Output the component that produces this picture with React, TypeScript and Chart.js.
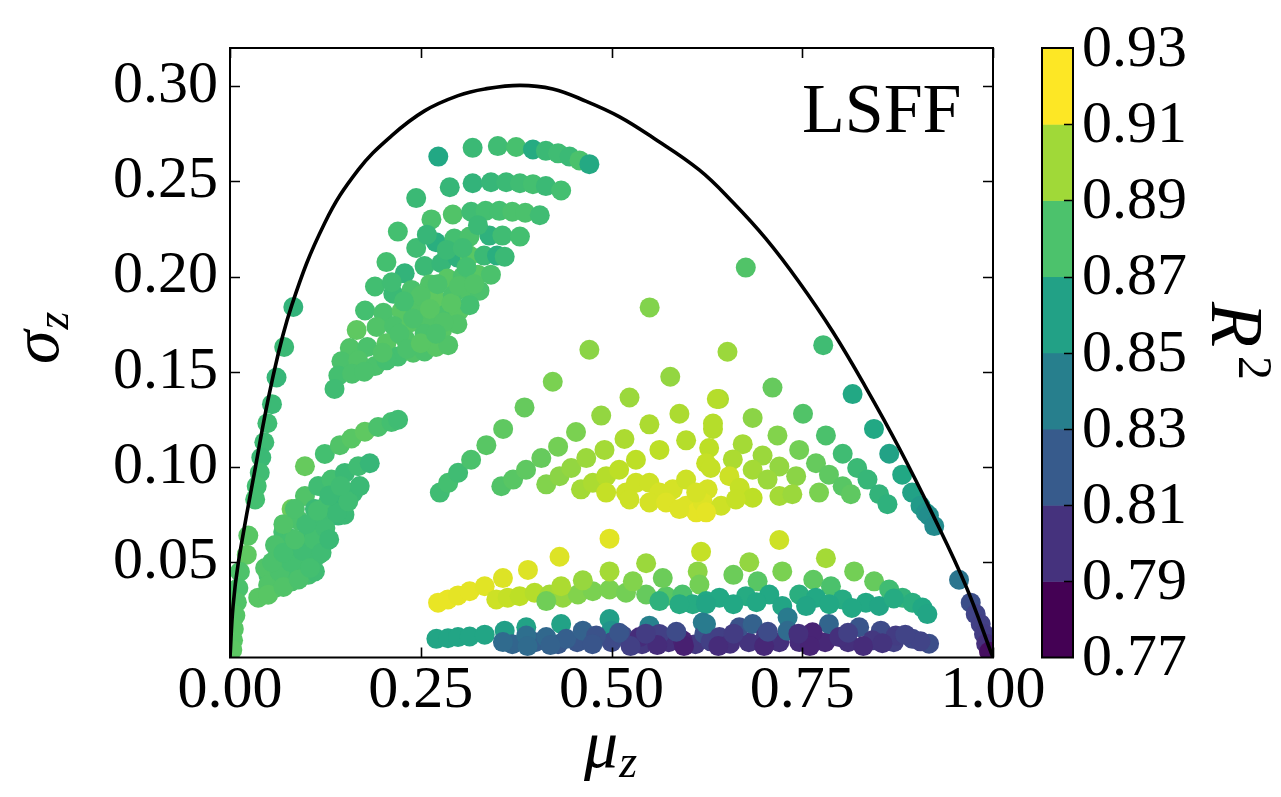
import React, { useEffect, useRef } from 'react';
import { Chart, registerables } from 'chart.js';
Chart.register(...registerables);

type P = [number, number, number]; // [mu, sigma, R2]

const boundaryMu = [0, 0.004, 0.011, 0.032, 0.055, 0.081, 0.124, 0.168, 0.212, 0.255, 0.299, 0.334, 0.38, 0.423, 0.467, 0.51, 0.554, 0.615, 0.659, 0.702, 0.746, 0.79, 0.833, 0.877, 0.921, 0.964, 1.0];
const boundarySigma = [0, 0.027, 0.05, 0.097, 0.145, 0.185, 0.228, 0.256, 0.274, 0.287, 0.295, 0.2985, 0.3004, 0.2985, 0.292, 0.284, 0.273, 0.256, 0.239, 0.220, 0.197, 0.171, 0.142, 0.110, 0.075, 0.038, 0];

const xTicks = [0, 0.25, 0.5, 0.75, 1.0];
const yTicks = [0.05, 0.1, 0.15, 0.2, 0.25, 0.3];
const cbarLevels = [0.77, 0.79, 0.81, 0.83, 0.85, 0.87, 0.89, 0.91, 0.93];

const leftColumn: P[] = [
  [0.083, 0.184, 0.874], [0.071, 0.163, 0.878], [0.061, 0.147, 0.876], [0.055, 0.133, 0.878],
  [0.049, 0.123, 0.880], [0.045, 0.113, 0.879], [0.041, 0.105, 0.878], [0.039, 0.097, 0.880],
  [0.035, 0.090, 0.881], [0.033, 0.083, 0.882], [0.024, 0.064, 0.888], [0.022, 0.054, 0.890],
  [0.013, 0.045, 0.885], [0.011, 0.0365, 0.884], [0.009, 0.029, 0.886], [0.007, 0.022, 0.887],
  [0.005, 0.015, 0.888], [0.004, 0.009, 0.888], [0.003, 0.004, 0.889],
];

const upperCluster: P[] = [
  [0.273, 0.263, 0.866], [0.318, 0.2676, 0.878], [0.351, 0.2685, 0.880], [0.375, 0.268, 0.883], [0.397, 0.2667, 0.868],
  [0.414, 0.266, 0.878], [0.430, 0.2647, 0.880], [0.445, 0.263, 0.878], [0.458, 0.261, 0.884], [0.471, 0.259, 0.867],
  [0.244, 0.2412, 0.878], [0.288, 0.2469, 0.876], [0.318, 0.249, 0.874], [0.342, 0.2495, 0.876], [0.362, 0.2495, 0.878],
  [0.380, 0.249, 0.880], [0.397, 0.2485, 0.882], [0.414, 0.2475, 0.878], [0.434, 0.2452, 0.882],
  [0.220, 0.2236, 0.882], [0.264, 0.230, 0.884], [0.292, 0.2326, 0.886], [0.316, 0.234, 0.880], [0.335, 0.2345, 0.882],
  [0.353, 0.2345, 0.882], [0.370, 0.234, 0.884], [0.387, 0.2335, 0.884], [0.406, 0.2322, 0.880],
  [0.244, 0.215, 0.880], [0.270, 0.218, 0.870], [0.294, 0.220, 0.882], [0.314, 0.221, 0.884], [0.340, 0.2215, 0.872],
  [0.357, 0.2215, 0.880], [0.380, 0.221, 0.882],
  [0.205, 0.2076, 0.882], [0.229, 0.2017, 0.874], [0.255, 0.2055, 0.878], [0.277, 0.207, 0.876], [0.298, 0.210, 0.872],
  [0.314, 0.211, 0.888], [0.333, 0.211, 0.878], [0.350, 0.211, 0.870], [0.360, 0.2104, 0.878],
  [0.190, 0.1948, 0.881], [0.214, 0.191, 0.878], [0.238, 0.193, 0.884], [0.262, 0.196, 0.886], [0.285, 0.199, 0.888],
  [0.305, 0.200, 0.884], [0.325, 0.201, 0.888], [0.342, 0.201, 0.884],
  [0.177, 0.1822, 0.882], [0.201, 0.181, 0.884], [0.225, 0.182, 0.888], [0.248, 0.185, 0.886], [0.270, 0.188, 0.890],
  [0.292, 0.190, 0.884], [0.314, 0.192, 0.886], [0.327, 0.1926, 0.884],
  [0.166, 0.1719, 0.890], [0.192, 0.1735, 0.886], [0.215, 0.174, 0.884], [0.238, 0.176, 0.888], [0.260, 0.178, 0.886],
  [0.282, 0.180, 0.884], [0.300, 0.182, 0.888], [0.314, 0.185, 0.882],
  [0.157, 0.1625, 0.886], [0.180, 0.163, 0.884], [0.205, 0.165, 0.888], [0.230, 0.167, 0.886], [0.255, 0.170, 0.884],
  [0.278, 0.172, 0.888], [0.298, 0.175, 0.886],
  [0.146, 0.1555, 0.884], [0.168, 0.156, 0.886], [0.190, 0.153, 0.884], [0.220, 0.158, 0.882], [0.240, 0.160, 0.886],
  [0.255, 0.1607, 0.884], [0.270, 0.163, 0.888], [0.286, 0.164, 0.886],
  [0.142, 0.148, 0.882], [0.137, 0.141, 0.880], [0.160, 0.149, 0.884], [0.176, 0.150, 0.884], [0.205, 0.156, 0.882],
  [0.250, 0.190, 0.886], [0.272, 0.196, 0.884], [0.290, 0.186, 0.888], [0.300, 0.195, 0.886], [0.240, 0.178, 0.884],
  [0.262, 0.183, 0.888], [0.280, 0.176, 0.886], [0.222, 0.170, 0.884], [0.200, 0.160, 0.886], [0.232, 0.162, 0.884],
  [0.250, 0.165, 0.888], [0.270, 0.170, 0.884], [0.310, 0.205, 0.882], [0.320, 0.196, 0.886], [0.228, 0.187, 0.882],
  [0.212, 0.197, 0.880], [0.284, 0.214, 0.878], [0.305, 0.215, 0.880], [0.325, 0.227, 0.878], [0.258, 0.222, 0.876],
];

const lowerLeftCluster: P[] = [
  [0.0982, 0.1004, 0.892], [0.1243, 0.1069, 0.882], [0.144, 0.1115, 0.886], [0.1593, 0.115, 0.888],
  [0.1767, 0.1185, 0.890], [0.1941, 0.121, 0.884], [0.2116, 0.1236, 0.882], [0.2203, 0.1248, 0.880],
  [0.0982, 0.0848, 0.886], [0.1156, 0.09, 0.880], [0.133, 0.0934, 0.882], [0.1505, 0.0969, 0.878],
  [0.168, 0.1004, 0.880], [0.1832, 0.102, 0.876],
  [0.1113, 0.0779, 0.878], [0.1287, 0.0814, 0.882], [0.146, 0.0848, 0.876], [0.1614, 0.0866, 0.878],
  [0.1243, 0.0707, 0.880], [0.1418, 0.0745, 0.876], [0.150, 0.075, 0.878],
  [0.0807, 0.0779, 0.894], [0.0698, 0.0659, 0.882], [0.1025, 0.0676, 0.878], [0.1243, 0.0607, 0.880],
  [0.1025, 0.0572, 0.882], [0.0851, 0.0538, 0.878], [0.0633, 0.0503, 0.886], [0.0502, 0.0434, 0.884],
  [0.037, 0.0314, 0.888], [0.0589, 0.0365, 0.886], [0.0807, 0.04, 0.884], [0.1025, 0.0434, 0.882],
  [0.1113, 0.0452, 0.880], [0.094, 0.05, 0.882], [0.1156, 0.0538, 0.880], [0.0676, 0.0572, 0.884],
  [0.0807, 0.0624, 0.882], [0.0938, 0.0607, 0.880], [0.1113, 0.0641, 0.878], [0.046, 0.047, 0.886],
  [0.072, 0.047, 0.882], [0.059, 0.059, 0.884], [0.09, 0.072, 0.884], [0.113, 0.072, 0.880],
  [0.05, 0.038, 0.886], [0.065, 0.045, 0.884], [0.08, 0.05, 0.882], [0.095, 0.056, 0.880], [0.11, 0.062, 0.882],
  [0.125, 0.068, 0.880], [0.14, 0.076, 0.878], [0.155, 0.082, 0.880], [0.17, 0.09, 0.878],
  [0.055, 0.05, 0.884], [0.07, 0.055, 0.882], [0.085, 0.062, 0.884], [0.1, 0.07, 0.880], [0.115, 0.077, 0.882],
  [0.13, 0.085, 0.878], [0.145, 0.09, 0.880], [0.07, 0.07, 0.886], [0.085, 0.078, 0.884],
  [0.05, 0.033, 0.888], [0.07, 0.037, 0.886], [0.09, 0.041, 0.884], [0.105, 0.047, 0.882], [0.12, 0.055, 0.880],
  [0.13, 0.062, 0.878],
];

const fanArcs: P[] = [
  [0.275, 0.0866, 0.880], [0.286, 0.0917, 0.882], [0.299, 0.097, 0.880], [0.316, 0.1038, 0.884], [0.336, 0.1115, 0.888],
  [0.358, 0.120, 0.890], [0.386, 0.1313, 0.892], [0.423, 0.1448, 0.898], [0.471, 0.1616, 0.902], [0.55, 0.1838, 0.900],
  [0.676, 0.2047, 0.886],
  [0.7775, 0.164, 0.880], [0.816, 0.1383, 0.866], [0.844, 0.120, 0.866], [0.864, 0.107, 0.862], [0.881, 0.096, 0.866],
  [0.894, 0.0866, 0.862], [0.905, 0.0797, 0.856], [0.912, 0.076, 0.852], [0.916, 0.0745, 0.848], [0.923, 0.069, 0.846],
  [0.3556, 0.0899, 0.886], [0.371, 0.0934, 0.888], [0.388, 0.0986, 0.890], [0.408, 0.1047, 0.892], [0.430, 0.1107, 0.896],
  [0.4535, 0.1184, 0.898], [0.4865, 0.127, 0.904], [0.5236, 0.1365, 0.906], [0.577, 0.1474, 0.904], [0.652, 0.1605, 0.906],
  [0.711, 0.1417, 0.892], [0.751, 0.128, 0.886], [0.781, 0.1166, 0.884], [0.803, 0.107, 0.880], [0.822, 0.0995, 0.878],
  [0.8355, 0.0934, 0.876], [0.8508, 0.0857, 0.874], [0.8617, 0.0805, 0.872],
  [0.4145, 0.0909, 0.900], [0.4319, 0.0952, 0.902], [0.4472, 0.0995, 0.904], [0.4669, 0.1047, 0.906], [0.4908, 0.109, 0.908],
  [0.517, 0.1147, 0.910], [0.5497, 0.1224, 0.910], [0.589, 0.128, 0.910], [0.641, 0.1357, 0.910], [0.685, 0.1258, 0.902],
  [0.7175, 0.1166, 0.900], [0.746, 0.109, 0.896], [0.768, 0.102, 0.892], [0.785, 0.096, 0.890], [0.803, 0.0899, 0.888],
  [0.8137, 0.0857, 0.890],
  [0.460, 0.0883, 0.908], [0.4755, 0.0917, 0.910], [0.493, 0.0952, 0.912], [0.510, 0.0986, 0.914], [0.532, 0.1038, 0.914],
  [0.5628, 0.109, 0.914], [0.5978, 0.114, 0.912], [0.633, 0.120, 0.912], [0.672, 0.112, 0.908], [0.698, 0.106, 0.906],
  [0.720, 0.1003, 0.904], [0.742, 0.0952, 0.902], [0.772, 0.0866, 0.898],
  [0.638, 0.1357, 0.912], [0.633, 0.1228, 0.912], [0.628, 0.110, 0.914], [0.624, 0.102, 0.916], [0.630, 0.0995, 0.916],
  [0.626, 0.0883, 0.920],
  [0.493, 0.0866, 0.916], [0.519, 0.0866, 0.918], [0.532, 0.0917, 0.918], [0.5497, 0.0917, 0.918], [0.5628, 0.0866, 0.920],
  [0.5803, 0.0883, 0.920], [0.5978, 0.0934, 0.918], [0.5978, 0.0797, 0.922], [0.611, 0.0762, 0.924], [0.6196, 0.0814, 0.922],
  [0.5497, 0.0814, 0.920], [0.5236, 0.083, 0.918], [0.5715, 0.0814, 0.922], [0.589, 0.0779, 0.922], [0.611, 0.0866, 0.920],
  [0.659, 0.104, 0.910], [0.6545, 0.0952, 0.918], [0.668, 0.0891, 0.916], [0.685, 0.0839, 0.914], [0.720, 0.0848, 0.908],
  [0.737, 0.0857, 0.906], [0.6436, 0.0797, 0.918], [0.663, 0.083, 0.916], [0.685, 0.0986, 0.908], [0.7045, 0.0934, 0.906],
  [0.624, 0.0762, 0.924],
];

const lowerArcs: P[] = [
  [0.2727, 0.0288, 0.925], [0.2857, 0.0305, 0.925], [0.2988, 0.0326, 0.924], [0.3141, 0.0348, 0.924], [0.3338, 0.0374, 0.923],
  [0.3577, 0.0417, 0.922], [0.3905, 0.046, 0.922], [0.4319, 0.0529, 0.922], [0.4974, 0.0624, 0.923], [0.6174, 0.0555, 0.916],
  [0.7199, 0.0617, 0.918], [0.781, 0.0521, 0.908], [0.6806, 0.05, 0.904], [0.5454, 0.0495, 0.906], [0.818, 0.0452, 0.896],
  [0.349, 0.0305, 0.918], [0.364, 0.0314, 0.916], [0.3796, 0.0322, 0.914], [0.3992, 0.034, 0.912], [0.4188, 0.0331, 0.908],
  [0.4363, 0.0314, 0.904], [0.4559, 0.0331, 0.900], [0.4755, 0.0348, 0.898], [0.4974, 0.0357, 0.898], [0.519, 0.034, 0.896],
  [0.5454, 0.0331, 0.892], [0.5715, 0.0322, 0.888], [0.593, 0.0331, 0.884], [0.4145, 0.0296, 0.895],
  [0.4624, 0.0405, 0.905], [0.434, 0.0374, 0.910], [0.4974, 0.0452, 0.908], [0.528, 0.04, 0.900], [0.5672, 0.0417, 0.894],
  [0.613, 0.0452, 0.902], [0.6152, 0.0383, 0.896], [0.7238, 0.0452, 0.898], [0.7644, 0.0408, 0.890], [0.8442, 0.04, 0.892],
  [0.6597, 0.0434, 0.894], [0.6915, 0.04, 0.888], [0.7876, 0.0374, 0.884], [0.8639, 0.0357, 0.880], [0.8813, 0.0314, 0.874],
  [0.8944, 0.0288, 0.870], [0.9075, 0.0262, 0.866], [0.914, 0.0228, 0.864],
  [0.6064, 0.028, 0.868], [0.624, 0.0296, 0.866], [0.5628, 0.0296, 0.872], [0.589, 0.028, 0.868], [0.6414, 0.0314, 0.866],
  [0.6763, 0.0322, 0.868], [0.7068, 0.0331, 0.866], [0.746, 0.0331, 0.870], [0.7679, 0.0314, 0.866], [0.8028, 0.0305, 0.868],
  [0.8334, 0.0288, 0.866], [0.8508, 0.0271, 0.864], [0.6239, 0.028, 0.864], [0.6597, 0.028, 0.866], [0.7238, 0.0271, 0.864],
  [0.7854, 0.028, 0.866], [0.69, 0.029, 0.866], [0.755, 0.027, 0.864], [0.815, 0.026, 0.866], [0.87, 0.031, 0.868],
];

const bottomRows: P[] = [
  [0.2705, 0.0098, 0.864], [0.2857, 0.0101, 0.864], [0.2988, 0.0107, 0.864], [0.3141, 0.011, 0.864], [0.3338, 0.012, 0.864],
  [0.36, 0.0141, 0.860], [0.3883, 0.0159, 0.862], [0.434, 0.0176, 0.862], [0.4974, 0.0202, 0.860], [0.4996, 0.0141, 0.852],
  [0.5497, 0.0167, 0.840], [0.6196, 0.0184, 0.836],
  [0.37, 0.007, 0.822], [0.40, 0.008, 0.818], [0.43, 0.007, 0.814], [0.455, 0.008, 0.812], [0.50, 0.008, 0.806],
  [0.54, 0.007, 0.796], [0.575, 0.008, 0.792], [0.61, 0.007, 0.796], [0.68, 0.008, 0.794], [0.72, 0.008, 0.792],
  [0.78, 0.008, 0.788], [0.81, 0.008, 0.792], [0.87, 0.008, 0.800],
  [0.3577, 0.0081, 0.826], [0.3883, 0.0115, 0.828], [0.4145, 0.0107, 0.824], [0.4407, 0.0098, 0.818], [0.4624, 0.0141, 0.820],
  [0.4799, 0.0115, 0.810], [0.5148, 0.0115, 0.806], [0.5366, 0.0107, 0.790], [0.5628, 0.0124, 0.800], [0.5933, 0.009, 0.786],
  [0.6217, 0.0124, 0.808], [0.63, 0.0085, 0.800], [0.6239, 0.0176, 0.836], [0.6675, 0.0159, 0.810], [0.685, 0.0176, 0.820],
  [0.7308, 0.021, 0.836], [0.7308, 0.014, 0.826], [0.785, 0.0176, 0.822], [0.8246, 0.0159, 0.812], [0.853, 0.0141, 0.806],
  [0.7635, 0.0132, 0.786], [0.6414, 0.0107, 0.800], [0.7024, 0.0115, 0.796], [0.7985, 0.0107, 0.792], [0.8726, 0.0115, 0.798],
  [0.8944, 0.0098, 0.804], [0.9162, 0.0072, 0.808], [0.842, 0.009, 0.796], [0.6554, 0.0072, 0.792], [0.7461, 0.0081, 0.790],
  [0.39, 0.006, 0.826], [0.42, 0.0065, 0.820], [0.475, 0.007, 0.812], [0.525, 0.006, 0.800], [0.56, 0.0065, 0.790],
  [0.595, 0.006, 0.784], [0.64, 0.006, 0.790], [0.70, 0.006, 0.788], [0.76, 0.006, 0.786], [0.83, 0.006, 0.790],
  [0.855, 0.0075, 0.794], [0.905, 0.0085, 0.802], [0.885, 0.012, 0.802], [0.81, 0.013, 0.800], [0.745, 0.0125, 0.792],
  [0.705, 0.0135, 0.806], [0.66, 0.0125, 0.798], [0.585, 0.0135, 0.806], [0.545, 0.0125, 0.798], [0.51, 0.013, 0.812],
];

const rightCorner: P[] = [
  [0.9555, 0.0408, 0.832], [0.9708, 0.0288, 0.808], [0.9773, 0.0228, 0.802], [0.9839, 0.0176, 0.800],
  [0.9882, 0.0124, 0.798], [0.991, 0.0072, 0.792], [0.9948, 0.003, 0.776],
];

const VIRIDIS = ['#440154', '#482475', '#414487', '#355f8d', '#2a788e', '#21918c', '#22a884', '#44bf70', '#7ad151', '#bddf26', '#fde725'];
const hex = (h: string) => [parseInt(h.slice(1, 3), 16), parseInt(h.slice(3, 5), 16), parseInt(h.slice(5, 7), 16)];
function viridis(t: number): string {
  const c = Math.max(0, Math.min(1, t)) * 10;
  const i = Math.min(9, Math.floor(c));
  const f = c - i;
  const a = hex(VIRIDIS[i]);
  const b = hex(VIRIDIS[i + 1]);
  const m = a.map((v, k) => Math.round(v + (b[k] - v) * f));
  return `rgb(${m[0]},${m[1]},${m[2]})`;
}
const vmin = cbarLevels[0];
const vmax = cbarLevels[cbarLevels.length - 1];
const colorOf = (r: number) => viridis((r - vmin) / (vmax - vmin));

const SERIF = '"Liberation Serif"';

function scatterSet(pts: P[]) {
  return {
    type: 'scatter' as const,
    data: pts.map((p) => ({ x: p[0], y: p[1] })),
    pointBackgroundColor: pts.map((p) => colorOf(p[2])),
    pointBorderWidth: 0,
    pointBorderColor: 'rgba(0,0,0,0)',
    pointRadius: 10,
    pointHoverRadius: 10,
    showLine: false,
    order: 1,
    clip: 0,
  };
}

const decor = {
  id: 'decor',
  afterDatasetsDraw(chart: any) {
    const { ctx, chartArea: a, scales } = chart;
    ctx.save();
    ctx.strokeStyle = '#000';
    ctx.lineWidth = 1.6;
    ctx.beginPath();
    xTicks.forEach((v) => {
      const px = Math.round(scales.x.getPixelForValue(v)) + 0.5;
      ctx.moveTo(px, a.bottom); ctx.lineTo(px, a.bottom - 10);
      ctx.moveTo(px, a.top); ctx.lineTo(px, a.top + 10);
    });
    yTicks.forEach((v) => {
      const py = Math.round(scales.y.getPixelForValue(v)) + 0.5;
      ctx.moveTo(a.left, py); ctx.lineTo(a.left + 10, py);
      ctx.moveTo(a.right, py); ctx.lineTo(a.right - 10, py);
    });
    ctx.stroke();
    ctx.lineWidth = 2;
    ctx.strokeRect(a.left, a.top, a.right - a.left, a.bottom - a.top);
    ctx.restore();
  },
  afterDraw(chart: any) {
    const { ctx, chartArea: a } = chart;
    ctx.save();
    const cl = 1042, cr = 1073;
    const yOf = (v: number) => a.bottom - ((v - vmin) / (vmax - vmin)) * (a.bottom - a.top);
    const n = cbarLevels.length - 1;
    for (let i = 0; i < n; i++) {
      ctx.fillStyle = viridis(i / (n - 1));
      const y0 = yOf(cbarLevels[i]);
      const y1 = yOf(cbarLevels[i + 1]);
      ctx.fillRect(cl, y1, cr - cl, y0 - y1 + 0.5);
    }
    ctx.strokeStyle = '#000';
    ctx.lineWidth = 1.6;
    ctx.beginPath();
    for (let i = 1; i < n; i++) {
      const y = Math.round(yOf(cbarLevels[i])) + 0.5;
      ctx.moveTo(cr, y); ctx.lineTo(cr - 9, y);
    }
    ctx.stroke();
    ctx.lineWidth = 2;
    ctx.strokeRect(cl, a.top, cr - cl, a.bottom - a.top);
    ctx.fillStyle = '#000';
    ctx.font = `60px ${SERIF}`;
    ctx.textAlign = 'left';
    ctx.textBaseline = 'middle';
    cbarLevels.forEach((v) => ctx.fillText(v.toFixed(2), 1082, yOf(v) + 2));

    ctx.save();
    ctx.translate(1212, 302);
    ctx.rotate(Math.PI / 2);
    ctx.textBaseline = 'alphabetic';
    ctx.font = `italic 74px ${SERIF}`;
    ctx.fillText('R', 0, 0);
    ctx.font = `48px ${SERIF}`;
    ctx.fillText('2', 54, -27);
    ctx.restore();

    ctx.save();
    ctx.translate(58, 364);
    ctx.rotate(-Math.PI / 2);
    ctx.textBaseline = 'alphabetic';
    ctx.textAlign = 'left';
    ctx.font = `italic 68px ${SERIF}`;
    ctx.fillText('σ', 0, 0);
    const sw = ctx.measureText('σ').width;
    ctx.font = `italic 46px ${SERIF}`;
    ctx.fillText('z', sw + 1, 10);
    ctx.restore();

    ctx.textBaseline = 'alphabetic';
    ctx.textAlign = 'left';
    ctx.font = `italic 68px ${SERIF}`;
    ctx.fillText('μ', 584, 767);
    const mw = ctx.measureText('μ').width;
    ctx.font = `italic 46px ${SERIF}`;
    ctx.fillText('z', 584 + mw + 1, 777);

    ctx.font = `70px ${SERIF}`;
    ctx.fillText('LSFF', 802, 132);
    ctx.restore();
  },
};

export default function App() {
  const ref = useRef<HTMLCanvasElement>(null);
  useEffect(() => {
    const chart = new Chart(ref.current!, {
      type: 'scatter',
      data: {
        datasets: [
          {
            type: 'line' as const,
            data: boundaryMu.map((m, i) => ({ x: m, y: boundarySigma[i] })),
            borderColor: '#000',
            borderWidth: 3.6,
            pointRadius: 0,
            tension: 0.4,
            fill: false,
            order: 0,
            clip: 0,
          } as any,
          scatterSet(leftColumn),
          scatterSet(lowerLeftCluster),
          scatterSet(upperCluster),
          scatterSet(bottomRows),
          scatterSet(lowerArcs),
          scatterSet(fanArcs),
          scatterSet(rightCorner),
        ],
      },
      options: {
        responsive: false,
        devicePixelRatio: 1,
        animation: false,
        events: [],
        layout: { padding: { left: 0, top: 38, right: 288, bottom: 0 } },
        plugins: { legend: { display: false }, tooltip: { enabled: false } },
        scales: {
          x: {
            type: 'linear',
            min: 0,
            max: 1,
            afterBuildTicks: (s: any) => { s.ticks = xTicks.map((v) => ({ value: v })); },
            afterFit: (s: any) => { s.height = 797 - 657.5; },
            ticks: {
              autoSkip: false,
              maxRotation: 0,
              padding: -2,
              color: '#000',
              font: { family: SERIF, size: 60 },
              callback: (v: any) => Number(v).toFixed(2),
            },
            grid: { display: false, drawTicks: false },
            border: { display: false },
          },
          y: {
            type: 'linear',
            min: 0,
            max: 0.32,
            afterBuildTicks: (s: any) => { s.ticks = yTicks.map((v) => ({ value: v })); },
            afterFit: (s: any) => { s.width = 230; },
            ticks: {
              autoSkip: false,
              padding: 12,
              color: '#000',
              font: { family: SERIF, size: 60 },
              callback: (v: any) => Number(v).toFixed(2),
            },
            grid: { display: false, drawTicks: false },
            border: { display: false },
          },
        },
      },
      plugins: [decor],
    });
    return () => { chart.destroy(); };
  }, []);
  return (
    <div style={{ position: 'absolute', left: 0, top: 0, width: 1281, height: 797, background: '#fff' }}>
      <canvas ref={ref} width={1281} height={797} style={{ display: 'block' }} />
    </div>
  );
}
